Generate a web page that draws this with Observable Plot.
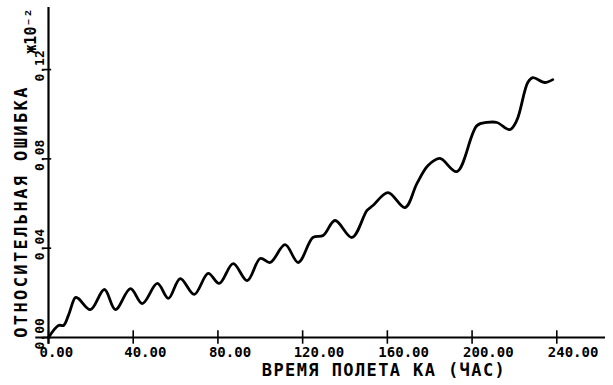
<!DOCTYPE html>
<html>
<head>
<meta charset="utf-8">
<script src="https://cdn.jsdelivr.net/npm/d3@7"></script>
<script src="https://cdn.jsdelivr.net/npm/@observablehq/plot@0.6"></script>
<style>
  html, body { margin: 0; padding: 0; background: #fff; }
  svg { font-family: "DejaVu Sans Mono", monospace; }
</style>
</head>
<body>
<div id="chart"></div>
<script>
// Flight time (hours) and relative error (x10^-2)
const hours = [0, 4.7, 7.1, 9.4, 12.7, 14.1, 19.8, 26.4, 31.6, 38.7, 44.3, 51.4, 56.6, 62.2, 68.8, 75.4, 80.6, 87.2, 93.8, 100.0, 104.7, 111.7, 117.9, 124.9, 129.7, 135.3, 143.3, 150.4, 153.2, 160.3, 168.3, 174.0, 179.2, 184.8, 192.8, 202.3, 207.0, 211.7, 217.8, 221.1, 226.3, 228.7, 234.3, 238.1];
const errors = [0, 0.0054, 0.0054, 0.0099, 0.0179, 0.0175, 0.0125, 0.0215, 0.0125, 0.0219, 0.0152, 0.0242, 0.0175, 0.0264, 0.0193, 0.0287, 0.0242, 0.0331, 0.0255, 0.0354, 0.0336, 0.0416, 0.0336, 0.0448, 0.0457, 0.0524, 0.0448, 0.0569, 0.0591, 0.0649, 0.0582, 0.0690, 0.0770, 0.0802, 0.0743, 0.0949, 0.0963, 0.0963, 0.0931, 0.0972, 0.1142, 0.1164, 0.1142, 0.1155];

const xTicks = [0, 40, 80, 120, 160, 200, 240];
const xTickLabels = ["0.00", "40.00", "80.00", "120.00", "160.00", "200.00", "240.00"];
const yTicks = [0, 0.04, 0.08, 0.12];
const yTickLabels = ["0.00", "0.04", "0.08", "0.12"];

const xTitle = "ВРЕМЯ ПОЛЕТА КА (ЧАС)";
const yTitle = "ОТНОСИТЕЛЬНАЯ ОШИБКА";
const yUnit = "ж10⁻²";

const xMax = 263;
const yMax = 0.1478;

const series = hours.map((h, i) => ({h, e: errors[i]}));
const xt = xTicks.map((v, i) => ({v, label: xTickLabels[i]}));
const yt = yTicks.map((v, i) => ({v, label: yTickLabels[i]}));

const chart = Plot.plot({
  width: 613,
  height: 385,
  marginLeft: 48,
  marginRight: 8,
  marginTop: 7,
  marginBottom: 48,
  x: {domain: [0, xMax], axis: null},
  y: {domain: [0, yMax], axis: null},
  marks: [
    // axes lines
    Plot.ruleY([0], {x1: -6, x2: xMax, stroke: "#000", strokeWidth: 2.2}),
    Plot.ruleX([0], {y1: -0.003, y2: yMax, stroke: "#000", strokeWidth: 2.2}),
    // x ticks
    Plot.ruleX(xt, {x: "v", y1: -0.003, y2: 0.003, stroke: "#000", strokeWidth: 1.6}),
    Plot.text(xt, {x: "v", y: 0, text: "label", dy: 15, dx: -9, textAnchor: "start", lineAnchor: "middle",
      fontSize: 14, fontWeight: "bold", fill: "#000"}),
    // y ticks
    Plot.ruleY(yt, {y: "v", x1: -2, x2: 1.5, stroke: "#000", strokeWidth: 1.6}),
    Plot.text(yt, {x: 0, y: "v", text: "label", rotate: -90, dx: -9, dy: 12, textAnchor: "start", lineAnchor: "middle",
      fontSize: 13, fontWeight: "bold", fill: "#000"}),
    // titles
    Plot.text([xTitle], {frameAnchor: "bottom", dx: 57, dy: 33, textAnchor: "middle", lineAnchor: "middle", fontSize: 17, fontWeight: "bold", fill: "#000"}),
    Plot.text([yTitle], {frameAnchor: "left", rotate: -90, dx: -27, dy: 39, textAnchor: "middle", lineAnchor: "middle", fontSize: 17, fontWeight: "bold", fill: "#000"}),
    Plot.text([yUnit], {frameAnchor: "top-left", rotate: -90, dx: -17, dy: 1, textAnchor: "end", lineAnchor: "middle", fontSize: 15, fontWeight: "bold", fill: "#000"}),
    // data curve
    Plot.line(series, {x: "h", y: "e", curve: "catmull-rom", stroke: "#000", strokeWidth: 2.8, strokeLinejoin: "round", strokeLinecap: "round"})
  ]
});
d3.select(chart).selectAll("text").filter(function () { return this.textContent === xTitle; }).style("letter-spacing", "1.4px");
d3.select(chart).selectAll("text").filter(function () { return this.textContent === yTitle; }).style("letter-spacing", "2.4px");
document.getElementById("chart").appendChild(chart);
</script>
</body>
</html>
